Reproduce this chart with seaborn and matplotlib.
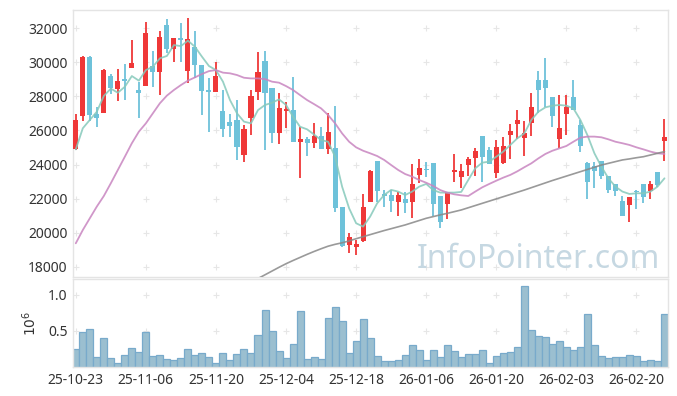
import numpy as np
import pandas as pd
import seaborn as sns
import matplotlib.pyplot as plt

# daily candles, oldest first (KRW)
opens = [24890, 26850, 30300, 26970, 27050, 29200, 28460, 29020, 29690, 28380,
         28630, 29790, 29460, 32200, 30810, 31410, 29510, 30880, 29850, 28380,
         28280, 27140, 26500, 26620, 24580, 26750, 28280, 30080, 28500, 25870,
         27120, 27200, 25340, 25480, 25280, 25680, 24930, 24950, 21490, 19290,
         19180, 19530, 21820, 24210, 22290, 22190, 21820, 22000, 21820, 23370,
         23740, 24070, 22170, 21680, 23580, 23270, 23950, 24360, 25680, 24870,
         23500, 24070, 25750, 26380, 25540, 26460, 28950, 28970, 27950, 25520,
         26990, 27950, 26320, 24090, 23910, 24210, 23350, 22860, 21860, 21640,
         22450, 22860, 22450, 23540, 25400]
highs = [26970, 30380, 30380, 27400, 29630, 29320, 29590, 29900, 31320, 28870,
         32370, 30670, 31820, 32530, 31410, 32330, 32590, 31860, 29850, 29060,
         30000, 28380, 26950, 27790, 26320, 28380, 30590, 30670, 28500, 28180,
         27690, 29160, 26220, 25600, 26420, 26220, 27050, 27440, 21490, 19960,
         19570, 22250, 23650, 24210, 22510, 22510, 22410, 22410, 24010, 24310,
         24170, 24070, 22170, 22370, 24640, 24050, 24440, 24990, 25680, 25030,
         25420, 25620, 26400, 27180, 26560, 28180, 29490, 30280, 27950, 28060,
         28060, 28950, 26620, 24170, 24170, 24210, 23350, 22860, 22150, 22070,
         22480, 22860, 23010, 23540, 26660]
lows = [24850, 26540, 26560, 26220, 27000, 28140, 27730, 27770, 29650, 26710,
        28600, 28570, 28060, 30530, 30000, 30000, 28770, 29060, 26890, 25930,
        28280, 25600, 25600, 24270, 24170, 25730, 27790, 24850, 25250, 25190,
        26170, 25340, 23190, 24500, 24990, 24930, 24620, 21230, 19140, 18780,
        18670, 19450, 21820, 21820, 21530, 21230, 20980, 21170, 20840, 22900,
        23270, 21000, 20250, 20780, 22990, 22640, 23350, 23350, 22960, 24010,
        23230, 24050, 24310, 25480, 24500, 25660, 27010, 27400, 26190, 24970,
        25720, 27200, 24740, 21960, 22600, 23130, 22350, 22150, 20980, 20600,
        21370, 21760, 22000, 22700, 24230]
closes = [26610, 30300, 26910, 26750, 29550, 28500, 28910, 28930, 29980, 28180,
          31710, 29460, 31470, 30810, 31410, 31320, 31350, 29850, 28340, 28280,
          29200, 26110, 26280, 25050, 26090, 28030, 29440, 28220, 25870, 27320,
          27240, 25340, 25500, 25280, 25680, 24930, 25910, 21470, 19220, 19760,
          19310, 21530, 23620, 22450, 22170, 21880, 22190, 21720, 22860, 23780,
          23680, 21680, 20640, 22370, 23640, 23620, 24340, 24800, 24440, 24010,
          25030, 25110, 25950, 26600, 25830, 27380, 28400, 28480, 26850, 26150,
          27360, 27200, 25090, 22990, 23620, 23350, 22500, 22450, 20980, 22070,
          22390, 22070, 22860, 22820, 25600]

# volume, millions of shares
volume = [0.25, 0.49, 0.53, 0.14, 0.40, 0.13, 0.06, 0.17, 0.26, 0.21,
          0.49, 0.15, 0.17, 0.11, 0.10, 0.13, 0.25, 0.17, 0.19, 0.14,
          0.06, 0.19, 0.10, 0.18, 0.25, 0.19, 0.44, 0.79, 0.50, 0.22,
          0.13, 0.32, 0.78, 0.11, 0.14, 0.11, 0.68, 0.83, 0.64, 0.19,
          0.36, 0.67, 0.40, 0.15, 0.08, 0.08, 0.10, 0.17, 0.31, 0.24,
          0.10, 0.24, 0.14, 0.31, 0.22, 0.14, 0.18, 0.18, 0.24, 0.06,
          0.15, 0.19, 0.21, 0.28, 1.12, 0.51, 0.43, 0.42, 0.32, 0.36,
          0.28, 0.24, 0.28, 0.74, 0.31, 0.15, 0.13, 0.14, 0.14, 0.17,
          0.15, 0.08, 0.10, 0.08, 0.74]

# moving averages as drawn on the chart
ma5 = [24890, 26130, 26620, 27100, 28030, 28460, 28220, 28570, 29200, 28930,
       29550, 29750, 30240, 30380, 31020, 30960, 31280, 30920, 30340, 29790,
       29550, 28870, 27790, 27010, 26520, 26420, 27200, 27500, 27630, 27830,
       27500, 26810, 26220, 26070, 25760, 25440, 25340, 24460, 22700, 21430,
       20550, 20350, 20940, 21720, 22210, 22510, 22410, 22210, 22410, 22700,
       22860, 22500, 22350, 22350, 22350, 22390, 23090, 23780, 24110, 24170,
       24460, 24760, 25150, 25540, 25830, 26620, 27100, 27360, 27460, 27500,
       27460, 27300, 26620, 25730, 24660, 23870, 23190, 22700, 22410, 22270,
       22310, 22310, 22410, 22700, 23190]
ma20 = [19370, 20150, 20840, 21530, 22150, 22900, 23680, 24460, 25250, 25930,
        26420, 27010, 27600, 28050, 28380, 28670, 28930, 29120, 29320, 29490,
        29550, 29400, 29360, 29260, 29100, 29060, 29060, 29020, 28870, 28810,
        28610, 28380, 28080, 27790, 27550, 27300, 26910, 26420, 25830, 25340,
        25010, 24810, 24660, 24500, 24270, 23970, 23680, 23440, 23290, 23090,
        22930, 22740, 22500, 22350, 22250, 22190, 22150, 22410, 22660, 22860,
        23050, 23230, 23390, 23600, 23840, 24070, 24360, 24620, 24810, 24950,
        25090, 25340, 25580, 25640, 25640, 25600, 25480, 25340, 25250, 25150,
        25010, 24890, 24760, 24660, 24620]
ma60 = [np.nan] * 25 + [
        17150, 17300, 17520, 17740, 17960, 18170, 18360, 18540, 18720, 18890,
        19050, 19200, 19310, 19400, 19510, 19640, 19760, 19880, 20000, 20120,
        20230, 20340, 20450, 20580, 20710, 20840, 20940, 21040, 21130, 21230,
        21330, 21460, 21590, 21720, 21850, 21980, 22110, 22240, 22370, 22500,
        22640, 22780, 22920, 23060, 23190, 23320, 23450, 23580, 23710, 23840,
        23970, 24070, 24170, 24270, 24330, 24400, 24460, 24560, 24660, 24760]

tick_labels = ['25-10-23', '25-11-06', '25-11-20', '25-12-04', '25-12-18',
               '26-01-06', '26-01-20', '26-02-03', '26-02-20']
price_ticks = [18000, 20000, 22000, 24000, 26000, 28000, 30000, 32000]
vol_ticks = [0.5, 1.0]

df = pd.DataFrame({'open': opens, 'high': highs, 'low': lows, 'close': closes,
                   'volume': volume, 'ma5': ma5, 'ma20': ma20, 'ma60': ma60})
df['idx'] = np.arange(len(df))
up = df['close'] >= df['open']

sns.set_style('white')
plt.rcParams['font.family'] = ['Noto Sans', 'DejaVu Sans']

RED = '#ef3838'
BLUE = '#6ec2da'
GRID = '#e6e6e6'
TXT = '#333333'

fig = plt.figure(figsize=(6.77, 3.96), dpi=100)
ax = fig.add_axes([0.1078, 0.3005, 0.8789, 0.6742])
ax2 = fig.add_axes([0.1078, 0.0732, 0.8789, 0.2223])

xt = df['idx'][::10].values

# cross markers instead of grid lines
gx, gy = np.meshgrid(xt, price_ticks)
ax.plot(gx.ravel(), gy.ravel(), '+', color=GRID, ms=4.5, mew=0.8, zorder=0)
gx2, gy2 = np.meshgrid(xt, vol_ticks)
ax2.plot(gx2.ravel(), gy2.ravel(), '+', color=GRID, ms=4.5, mew=0.8, zorder=0)

# candles
colors = np.where(up, RED, BLUE)
ax.vlines(df['idx'], df['low'], df['high'], colors=colors, lw=1.3, zorder=2)
body = np.maximum((df['close'] - df['open']).abs(), 70)
bottom = np.minimum(df['open'], df['close'])
ax.bar(df['idx'], body, bottom=bottom, width=0.72, color=colors, linewidth=0, zorder=3)

# moving averages
sns.lineplot(data=df, x='idx', y='ma5', ax=ax, color='#86c9bb', lw=1.3, alpha=0.85, zorder=4)
sns.lineplot(data=df, x='idx', y='ma20', ax=ax, color='#c885c0', lw=1.3, alpha=0.85, zorder=4)
sns.lineplot(data=df, x='idx', y='ma60', ax=ax, color='#888888', lw=1.2, alpha=0.85, zorder=4)

ax.text(0.987, 0.034, 'InfoPointer.com', transform=ax.transAxes, ha='right',
        va='baseline', fontsize=23, color='#c6d8e2', zorder=1)

ax.set_xlim(-0.4, 84.5)
ax.set_ylim(17390, 33080)
ax.set_yticks(price_ticks)
ax.set_xticks(xt)
ax.set_xticklabels([])
ax.set_xlabel('')
ax.set_ylabel('')

# volume
sns.barplot(data=df, x='idx', y='volume', ax=ax2, color='#9bbfd0', saturation=1,
            width=1.0, edgecolor='#78aacb', linewidth=0.9, native_scale=True, errorbar=None)
ax2.set_xlim(-0.4, 84.5)
ax2.set_ylim(0, 1.22)
ax2.set_yticks(vol_ticks)
ax2.set_yticklabels(['0.5', '1.0'])
ax2.set_xticks(xt)
ax2.set_xticklabels(tick_labels)
ax2.set_xlabel('')
ax2.set_ylabel(r'$10^6$', fontsize=10, color=TXT, labelpad=6)

for a in (ax, ax2):
    a.tick_params(length=0, labelsize=10, colors=TXT, pad=4)
    for s in a.spines.values():
        s.set_color('#e4e4e4')
        s.set_linewidth(1)

plt.savefig('out.png', dpi=100)
